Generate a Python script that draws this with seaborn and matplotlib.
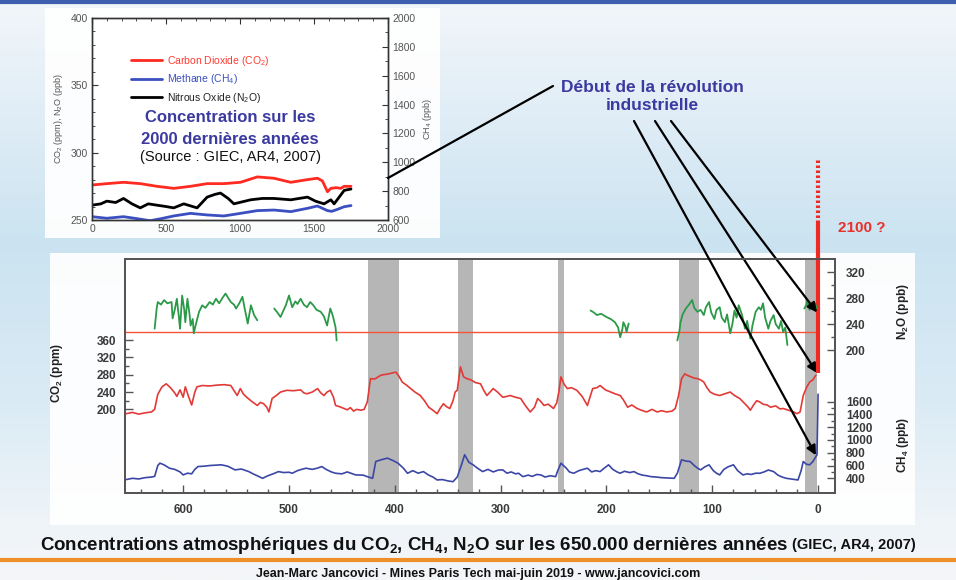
import numpy as np
import pandas as pd
import matplotlib.pyplot as plt
import seaborn as sns
from matplotlib.patches import Rectangle
from matplotlib.lines import Line2D
from matplotlib.colors import LinearSegmentedColormap

# --- données : 650 000 dernières années (milliers d'années avant aujourd'hui)
co2_kyr = [654, 648, 642, 636, 630, 627, 624, 620, 616, 612, 608, 606, 603, 600, 598, 595, 592, 589, 587, 582,
           575, 568, 561, 555, 549, 546, 543, 540, 535, 530, 527, 524, 521, 519, 516, 512, 508, 502, 496, 489,
           486, 483, 478, 473, 470, 467, 464, 461, 458, 456, 452, 448, 445, 442, 439, 436, 432, 429, 426, 423,
           419, 413, 408, 404, 399, 396, 393, 389, 385, 381, 376, 372, 368, 364, 360, 357, 354, 351, 348, 345,
           343, 341, 338, 335, 332, 328, 324, 319, 316, 313, 310, 307, 303, 298, 294, 291, 286, 281, 277, 272,
           268, 265, 262, 259, 255, 250, 247, 245, 243, 240, 237, 233, 228, 223, 218, 215, 213, 209, 206, 201,
           196, 192, 187, 184, 180, 176, 171, 167, 162, 157, 152, 148, 143, 138, 135, 132, 129, 126, 124, 120,
           117, 114, 111, 108, 105, 102, 98, 93, 88, 83, 79, 74, 70, 66, 64, 61, 58, 55, 52, 48,
           45, 40, 36, 33, 28, 23, 20, 17, 14, 11, 8, 5, 2]
co2_ppm = [190, 193, 189, 192, 194, 200, 235, 252, 259, 250, 238, 230, 245, 228, 252, 230, 210, 240, 252, 255,
           254, 256, 257, 255, 232, 248, 235, 228, 218, 209, 216, 213, 205, 194, 225, 232, 240, 244, 243, 245,
           238, 236, 240, 248, 238, 232, 240, 244, 228, 209, 206, 202, 199, 204, 196, 200, 198, 200, 217, 271,
           270, 279, 281, 283, 286, 276, 263, 256, 248, 240, 232, 220, 205, 198, 190, 203, 213, 206, 202, 220,
           240, 244, 298, 275, 271, 268, 262, 259, 244, 232, 240, 248, 240, 228, 230, 232, 228, 225, 210, 194,
           205, 225, 218, 209, 212, 202, 215, 240, 275, 258, 248, 250, 244, 230, 209, 232, 248, 250, 255, 245,
           240, 236, 232, 222, 205, 210, 202, 198, 194, 200, 194, 197, 194, 196, 202, 230, 271, 282, 279, 275,
           272, 271, 268, 263, 250, 240, 235, 232, 236, 240, 232, 225, 215, 205, 198, 210, 220, 217, 212, 210,
           205, 208, 201, 202, 198, 194, 190, 194, 232, 250, 263, 268, 279]

ch4_kyr = [654, 648, 642, 636, 630, 627, 624, 622, 618, 613, 608, 603, 600, 596, 592, 589, 586, 580, 575, 570,
           564, 558, 551, 545, 538, 534, 530, 525, 520, 515, 510, 505, 500, 497, 492, 488, 484, 478, 473, 469,
           465, 460, 456, 450, 445, 440, 437, 430, 425, 421, 418, 413, 407, 402, 397, 392, 388, 383, 378, 373,
           368, 364, 360, 355, 350, 345, 341, 337, 334, 330, 326, 322, 317, 312, 307, 302, 298, 294, 290, 286,
           283, 279, 274, 270, 266, 262, 258, 253, 248, 246, 243, 238, 235, 231, 226, 222, 218, 214, 210, 206,
           202, 198, 194, 190, 187, 183, 178, 174, 170, 166, 162, 158, 153, 148, 142, 136, 133, 129, 125, 121,
           117, 114, 111, 107, 103, 99, 96, 93, 89, 85, 80, 76, 73, 71, 67, 63, 59, 55, 51, 47,
           42, 38, 34, 30, 26, 22, 19, 16, 14, 11, 8, 5, 3, 1, 0]
ch4_ppb = [380, 400, 390, 410, 420, 430, 600, 637, 610, 558, 540, 500, 453, 480, 470, 540, 584, 590, 600, 605,
           611, 590, 532, 545, 505, 470, 440, 400, 440, 470, 505, 490, 495, 479, 520, 540, 558, 540, 560, 584,
           540, 500, 479, 470, 500, 470, 453, 450, 420, 400, 663, 690, 716, 680, 637, 560, 479, 520, 480, 505,
           450, 420, 374, 380, 360, 347, 420, 611, 769, 650, 611, 560, 505, 540, 500, 530, 532, 480, 500, 470,
           479, 426, 450, 430, 460, 453, 420, 440, 426, 520, 637, 560, 500, 479, 520, 540, 558, 500, 520, 505,
           560, 611, 540, 500, 479, 510, 490, 505, 470, 450, 440, 426, 420, 410, 405, 400, 480, 690, 670, 663,
           600, 560, 532, 580, 611, 520, 480, 453, 540, 580, 611, 520, 480, 453, 470, 460, 480, 479, 500, 530,
           505, 450, 420, 400, 390, 380, 374, 520, 663, 620, 611, 660, 716, 769, 1716]

# N2O : cinq tronçons séparés par des lacunes
n2o_t1_kyr = [627, 625, 624, 621, 618, 615, 611, 610, 608, 606, 604, 603, 601, 599, 598, 596, 594, 593, 591, 590,
              588, 585, 582, 579, 575, 572, 569, 566, 563, 560, 557, 555, 552, 550, 547, 544, 542, 539, 536, 533, 530]
n2o_t1_ppb = [233, 265, 274, 270, 277, 272, 274, 249, 262, 279, 250, 233, 284, 262, 243, 279, 255, 238, 248, 226,
              240, 259, 269, 265, 274, 270, 279, 272, 280, 287, 279, 274, 270, 264, 272, 282, 265, 241, 269, 254, 246]
n2o_t2_kyr = [514, 511, 508, 505, 503, 500, 497, 494, 492, 489, 486, 483, 480, 477, 474, 470, 467, 464, 461, 459,
              458, 456, 455]
n2o_t2_ppb = [264, 258, 251, 262, 269, 284, 266, 275, 271, 279, 270, 266, 274, 269, 262, 259, 252, 238, 264, 255,
              249, 235, 215]
n2o_t3_kyr = [215, 212, 209, 205, 200, 196, 192, 189, 187, 185, 184, 182, 181, 179]
n2o_t3_ppb = [261, 258, 254, 256, 251, 248, 243, 235, 220, 232, 243, 236, 228, 241]
n2o_t4_kyr = [133, 131, 130, 128, 125, 122, 119, 117, 114, 111, 108, 106, 103, 101, 98, 96, 93, 91, 88, 86,
              83, 81, 79, 77, 75, 72, 69, 67, 64, 62, 59, 56, 54, 52, 50, 47, 45, 42, 40, 37, 35, 33, 31, 29]
n2o_t4_ppb = [215, 230, 243, 255, 264, 270, 277, 265, 259, 262, 254, 266, 274, 258, 248, 262, 266, 250, 243, 255,
              226, 240, 261, 250, 269, 255, 233, 245, 218, 238, 259, 266, 262, 272, 250, 233, 245, 254, 240, 233,
              245, 228, 235, 208]
n2o_t5_kyr = [13, 11, 10, 8, 6, 5, 3, 1]
n2o_t5_ppb = [264, 270, 277, 262, 270, 266, 272, 264]

interglaciaires = [(425, 396), (340, 326), (246, 240), (131, 113), (12, 1)]
co2_actuel = 379
co2_montee = [283, 630]
co2_2100 = [630, 780]

# --- données : 2000 dernières années (encart)
enc_an_co2 = [0, 100, 213, 326, 440, 552, 665, 778, 891, 1003, 1117, 1230, 1343, 1400, 1456, 1523, 1557, 1591,
              1614, 1650, 1681, 1704, 1750]
enc_co2 = [276, 277, 278, 277, 275, 273.5, 275, 277, 277, 278, 282, 281, 278, 279, 280, 281, 279, 271, 273.5,
           274, 273.5, 275, 275]
enc_an_ch4 = [0, 100, 213, 300, 393, 470, 552, 665, 778, 891, 1003, 1117, 1230, 1343, 1456, 1523, 1591, 1620,
              1659, 1704, 1750]
enc_ch4 = [623, 612, 623, 610, 595, 610, 628, 646, 635, 628, 646, 665, 669, 658, 681, 697, 665, 660, 674, 692, 700]
enc_an_n2o = [0, 60, 100, 160, 213, 270, 326, 380, 439, 500, 552, 620, 710, 778, 830, 868, 920, 959, 1072, 1150,
              1230, 1343, 1456, 1510, 1568, 1614, 1636, 1681, 1704, 1750]
enc_n2o = [261, 262, 264, 263, 266, 262, 259, 262, 261, 260, 259, 262, 259, 267, 269, 270, 266, 262, 265, 266,
           266, 265, 267, 264, 262, 265, 262, 268.6, 272, 273]

legende_encart = ['Carbon Dioxide (CO$_2$)', 'Methane (CH$_4$)', 'Nitrous Oxide (N$_2$O)']

ROUGE = '#e23a36'
BLEU = '#3b47a6'
VERT = '#2b9a48'
BLEU_TXT = '#3b3aa0'

W, H = 956, 580


def fx(px):
    return px / W


def fy(py):
    return 1 - py / H


sns.set_theme(style='white')
plt.rcParams['font.family'] = ['Liberation Sans', 'DejaVu Sans']
plt.rcParams['mathtext.default'] = 'regular'

fig = plt.figure(figsize=(W / 100, H / 100), dpi=100)

# fond dégradé bleu ciel
bg = fig.add_axes([0, 0, 1, 1], zorder=-10)
cmap = LinearSegmentedColormap.from_list('ciel', [(0, '#f2f6fa'), (0.2, '#e0edf6'), (0.42, '#cbe3f1'),
                                                  (0.7, '#dbebf5'), (0.9, '#eef4f8'), (1, '#f4f6f8')])
grad = np.linspace(0, 1, 300)[:, None] * np.ones((1, 10))
bg.imshow(grad, aspect='auto', cmap=cmap, extent=[0, 1, 0, 1])
bg.set_axis_off()

fig.patches.append(Rectangle((fx(45), fy(238)), fx(440) - fx(45), fy(8) - fy(238), transform=fig.transFigure,
                             facecolor='white', alpha=0.93, edgecolor='none', zorder=-5))
fig.patches.append(Rectangle((fx(50), fy(525)), fx(915) - fx(50), fy(253) - fy(525), transform=fig.transFigure,
                             facecolor='white', alpha=0.93, edgecolor='none', zorder=-5))
fig.add_artist(Line2D([0, 1], [fy(1.5), fy(1.5)], color='#3d5fae', lw=3))
fig.add_artist(Line2D([0, 1], [fy(560), fy(560)], color='#ef8f2a', lw=3))

# --- graphique principal
ax = fig.add_axes([fx(125), fy(493), fx(835) - fx(125), fy(259) - fy(493)])
ax.set_facecolor('white')
ax_n2o = ax.twinx()
ax_ch4 = ax.twinx()

for a, b in interglaciaires:
    ax.axvspan(a, b, color='#a9a9a9', alpha=0.85, lw=0, zorder=0)

ax.hlines(co2_actuel, 655, 2, color='#f2553a', lw=1, zorder=1)

df_co2 = pd.DataFrame({'kyr': co2_kyr, 'ppm': co2_ppm})
sns.lineplot(data=df_co2, x='kyr', y='ppm', ax=ax, color=ROUGE, lw=1.2, estimator=None, sort=False)
df_ch4 = pd.DataFrame({'kyr': ch4_kyr, 'ppb': ch4_ppb})
sns.lineplot(data=df_ch4, x='kyr', y='ppb', ax=ax_ch4, color=BLEU, lw=1.2, estimator=None, sort=False)
troncons = [(n2o_t1_kyr, n2o_t1_ppb), (n2o_t2_kyr, n2o_t2_ppb), (n2o_t3_kyr, n2o_t3_ppb),
            (n2o_t4_kyr, n2o_t4_ppb), (n2o_t5_kyr, n2o_t5_ppb)]
df_n2o = pd.concat([pd.DataFrame({'kyr': k, 'ppb': v, 'seg': i}) for i, (k, v) in enumerate(troncons)])
sns.lineplot(data=df_n2o, x='kyr', y='ppb', units='seg', ax=ax_n2o, color=VERT, lw=1.3, estimator=None,
             sort=False)

ax.plot([0, 0], co2_montee, color='#ee2a24', lw=3, clip_on=False, solid_capstyle='butt', zorder=5)
ax.plot([0, 0], co2_2100, color='#ee2a24', lw=3, ls=(0, (0.6, 0.6)), clip_on=False, zorder=5)

ax.set_xlim(655, -16)
ax.set_ylim(7, 547)
ax_n2o.set_ylim(-19, 340)
ax_ch4.set_ylim(170, 3833)

ax.set_xticks(range(0, 700, 100))
ax.set_xticks(range(0, 660, 20), minor=True)
ax.set_yticks([200, 240, 280, 320, 360])
ax.set_yticks([220, 260, 300, 340], minor=True)
ax_n2o.set_yticks([200, 240, 280, 320])
ax_n2o.set_yticks([220, 260, 300], minor=True)
ax_ch4.set_yticks(range(400, 1700, 200))
ax_ch4.set_yticks(range(500, 1600, 200), minor=True)

for a in (ax, ax_n2o, ax_ch4):
    a.set_xlabel('')
    a.set_ylabel('')
    for s in a.spines.values():
        s.set_color('#555555')
        s.set_linewidth(1.2)
    a.tick_params(which='major', direction='in', length=6, width=1, color='#555555', labelsize=8.5,
                  labelcolor='#3a3a3a', pad=8)
    a.tick_params(which='minor', direction='in', length=3, width=1, color='#555555')
    for lab in a.get_xticklabels() + a.get_yticklabels():
        lab.set_fontweight('bold')
ax.tick_params(axis='x', which='both', top=False, bottom=True)
ax.tick_params(axis='y', which='both', left=True, pad=6)
ax_n2o.xaxis.set_visible(False)
ax_ch4.xaxis.set_visible(False)

ax.set_ylabel('CO$_2$ (ppm)', fontsize=8.5, fontweight='bold', color='#222222')
ax.yaxis.set_label_coords(-0.085, 0.513)
ax_n2o.set_ylabel('N$_2$O (ppb)', fontsize=8.5, fontweight='bold', color='#222222')
ax_n2o.yaxis.set_label_coords(1.085, 0.773)
ax_ch4.set_ylabel('CH$_4$ (ppb)', fontsize=8.5, fontweight='bold', color='#222222')
ax_ch4.yaxis.set_label_coords(1.085, 0.205)

# flèches "Début de la révolution industrielle"
fleches = [(ax_ch4, 2, 760, 634), (ax, 1, 284, 655), (ax_n2o, 1, 258, 671)]
for a, x0, y0, px in fleches:
    a.annotate('', xy=(x0, y0), xycoords='data', xytext=(fx(px), fy(121)), textcoords='figure fraction',
               arrowprops=dict(arrowstyle='-|>', color='black', lw=1.6, mutation_scale=14, shrinkA=0, shrinkB=0),
               annotation_clip=False)

fig.text(fx(652), fy(87), 'Début de la révolution', ha='center', va='center', fontsize=12.5,
         fontweight='bold', color=BLEU_TXT)
fig.text(fx(652), fy(106), 'industrielle', ha='center', va='center', fontsize=12.5,
         fontweight='bold', color=BLEU_TXT)
fig.text(fx(838), fy(228), '2100 ?', ha='left', va='center', fontsize=11, fontweight='bold', color='#e8312b')
fig.add_artist(Line2D([fx(388), fx(553)], [fy(178), fy(86)], color='black', lw=1.6))

# --- encart : 2000 dernières années
axi = fig.add_axes([fx(92), fy(220), fx(388) - fx(92), fy(18) - fy(220)])
axi.set_facecolor('white')
axi2 = axi.twinx()
sns.lineplot(x=enc_an_co2, y=enc_co2, ax=axi, color='#ff2a20', lw=2)
sns.lineplot(x=enc_an_ch4, y=enc_ch4, ax=axi2, color='#3b4fc0', lw=2)
sns.lineplot(x=enc_an_n2o, y=enc_n2o, ax=axi, color='black', lw=2)
axi.set_xlim(0, 2000)
axi.set_ylim(250, 400)
axi2.set_ylim(600, 2000)
axi.set_xticks(range(0, 2001, 500))
axi.set_xticks(range(0, 2001, 100), minor=True)
axi.set_yticks([250, 300, 350, 400])
axi.set_yticks(range(250, 401, 10), minor=True)
axi2.set_yticks(range(600, 2001, 200))
axi2.set_yticks(range(600, 2001, 100), minor=True)
for a in (axi, axi2):
    for s in a.spines.values():
        s.set_color('#333333')
        s.set_linewidth(1)
    a.tick_params(which='major', direction='in', length=4, width=0.8, color='#333333', labelsize=7.5,
                  labelcolor='#555555', pad=3)
    a.tick_params(which='minor', direction='in', length=2, width=0.6, color='#333333')
axi.tick_params(axis='x', which='both', top=True)
axi.set_ylabel('CO$_2$ (ppm), N$_2$O (ppb)', fontsize=6.5, color='#555555', labelpad=4)
axi2.set_ylabel('CH$_4$ (ppb)', fontsize=6.5, color='#555555', labelpad=4)

h_co2 = Line2D([], [], color='#ff2a20', lw=2)
h_ch4 = Line2D([], [], color='#3b4fc0', lw=2)
h_n2o = Line2D([], [], color='black', lw=2)
leg = axi.legend([h_co2, h_ch4, h_n2o], legende_encart, loc='upper left', bbox_to_anchor=(0.1, 0.87),
                 frameon=False, fontsize=7.5, handlelength=3.0, labelspacing=0.45, handletextpad=0.5)
for t, c in zip(leg.get_texts(), ['#ff3a30', '#3b4fc0', '#222222']):
    t.set_color(c)

fig.text(fx(230), fy(118), 'Concentration sur les', ha='center', va='center', fontsize=12, fontweight='bold',
         color=BLEU_TXT)
fig.text(fx(230), fy(139), '2000 dernières années', ha='center', va='center', fontsize=12, fontweight='bold',
         color=BLEU_TXT)
fig.text(fx(230), fy(157), '(Source : GIEC, AR4, 2007)', ha='center', va='center', fontsize=10.5,
         color='#111111')

# --- titre et pied de page
titre = fig.text(fx(40), fy(545), 'Concentrations atmosphériques du CO$_2$, CH$_4$, N$_2$O sur les 650.000 '
                 'dernières années', ha='left', va='center', fontsize=13.5, fontweight='bold', color='#111111')
fig.canvas.draw()
bb = titre.get_window_extent()
fig.text(bb.x1 / W + fx(4), fy(545), '(GIEC, AR4, 2007)', ha='left', va='center', fontsize=10.5,
         fontweight='bold', color='#111111')
fig.text(0.5, fy(574), 'Jean-Marc Jancovici - Mines Paris Tech mai-juin 2019 - www.jancovici.com', ha='center',
         va='center', fontsize=9, fontweight='bold', color='#111111')

fig.savefig('out.png', dpi=100)
